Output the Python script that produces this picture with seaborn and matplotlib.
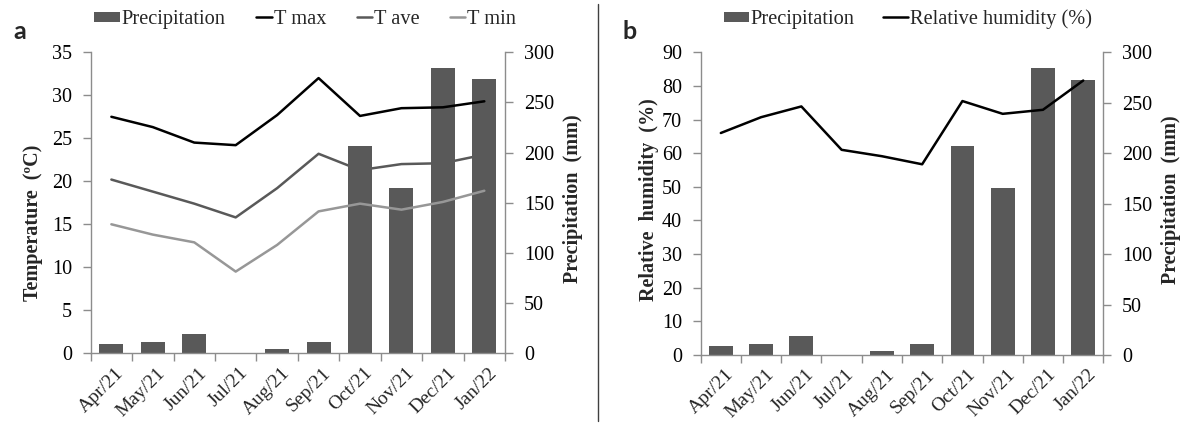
import numpy as np
import pandas as pd
import matplotlib
matplotlib.use("Agg")
import matplotlib.pyplot as plt
import matplotlib.transforms as mtransforms
import seaborn as sns
from matplotlib.lines import Line2D
from matplotlib.patches import Patch, Rectangle
from matplotlib.legend_handler import HandlerPatch

# ---- data ----
months = ["Apr/21", "May/21", "Jun/21", "Jul/21", "Aug/21", "Sep/21",
          "Oct/21", "Nov/21", "Dec/21", "Jan/22"]
precip = [9, 11, 19, 0, 4, 11, 207, 165, 284, 273]
t_max = [27.5, 26.3, 24.5, 24.2, 27.7, 32.0, 27.6, 28.5, 28.6, 29.3]
t_ave = [20.2, 18.8, 17.4, 15.8, 19.2, 23.2, 21.3, 22.0, 22.1, 23.1]
t_min = [15.0, 13.8, 12.9, 9.5, 12.6, 16.5, 17.4, 16.7, 17.6, 18.9]
rel_hum = [66.0, 70.7, 73.9, 61.0, 59.1, 56.7, 75.5, 71.7, 72.9, 81.6]

df = pd.DataFrame({"month": months, "precip": precip, "t_max": t_max,
                   "t_ave": t_ave, "t_min": t_min, "rh": rel_hum})

sns.set_theme(style="white")
plt.rcParams["font.family"] = ["Liberation Serif", "DejaVu Serif"]

BAR = "#595959"
SPINE = "#8c8c8c"
FS = 14.5
XFS = 14
LFS = 14.5
LEGFS = 14.7

fig = plt.figure(figsize=(11.85, 4.23), dpi=100)
axA = fig.add_axes([0.0765, 0.1648, 0.3497, 0.7116])
axB = fig.add_axes([0.5913, 0.1608, 0.3398, 0.7156])


def style_panel(ax, ax2, left_lim, left_step, ylabel, lx, ly, rx, ry, bar_w):
    sns.barplot(data=df, x="month", y="precip", ax=ax2, color=BAR,
                saturation=1, width=bar_w, linewidth=0)
    ax.set_zorder(ax2.get_zorder() + 1)
    ax.patch.set_visible(False)
    ax.set_xlim(-0.5, len(months) - 0.5)
    ax.set_ylim(0, left_lim)
    ax.set_yticks(np.arange(0, left_lim + 0.1, left_step))
    ax2.set_ylim(0, 300)
    ax2.set_yticks(np.arange(0, 301, 50))
    for a in (ax, ax2):
        for s in a.spines.values():
            s.set_color(SPINE)
            s.set_linewidth(1.0)
        a.spines["top"].set_visible(False)
        a.grid(False)
    ax.spines["right"].set_visible(False)
    ax2.spines["left"].set_visible(False)
    ax2.spines["bottom"].set_visible(False)
    ax.tick_params(axis="y", which="major", left=True, length=5.5, width=1,
                   color=SPINE, pad=8, labelsize=FS, labelcolor="black")
    ax2.tick_params(axis="y", which="major", right=True, length=5.5, width=1,
                    color=SPINE, pad=8, labelsize=FS, labelcolor="black")
    ax.set_xticks(range(len(months)))
    ax.set_xticklabels(months, rotation=45, ha="right", va="top",
                       rotation_mode="anchor", fontsize=XFS)
    ax.set_xticks(np.arange(-0.5, len(months), 1), minor=True)
    ax.tick_params(axis="x", which="major", bottom=True, length=0, pad=8)
    ax.tick_params(axis="x", which="minor", bottom=True, length=6, width=1,
                   color=SPINE)
    off = mtransforms.ScaledTranslation(0.04, 0, fig.dpi_scale_trans)
    for lab in ax.get_xticklabels():
        lab.set_transform(lab.get_transform() + off)
    ax.set_xlabel("")
    ax.set_ylabel(ylabel, fontsize=LFS, fontweight="bold")
    ax.yaxis.set_label_coords(lx, ly)
    ax2.set_ylabel("Precipitation  (mm)", fontsize=LFS, fontweight="bold")
    ax2.yaxis.set_label_coords(rx, ry)


# ---- panel a ----
axA2 = axA.twinx()
sns.lineplot(data=df, x="month", y="t_max", ax=axA, color="black",
             linewidth=1.8, sort=False)
sns.lineplot(data=df, x="month", y="t_ave", ax=axA, color="#595959",
             linewidth=1.8, sort=False)
sns.lineplot(data=df, x="month", y="t_min", ax=axA, color="#979797",
             linewidth=1.8, sort=False)
style_panel(axA, axA2, 35, 5, "Temperature  (ºC)", -0.114, 0.433,
            1.140, 0.513, 0.58)

# ---- panel b ----
axB2 = axB.twinx()
sns.lineplot(data=df, x="month", y="rh", ax=axB, color="black",
             linewidth=1.8, sort=False)
style_panel(axB, axB2, 90, 10, "Relative  humidity  (%)", -0.1036, 0.512,
            1.1433, 0.513, 0.59)


# ---- legends ----
def make_patch_handler(total_px):
    def patch_func(legend, orig_handle, xdescent, ydescent, width, height,
                   fontsize):
        w = total_px * 72.0 / fig.dpi
        h = 10 * 72.0 / fig.dpi
        return Rectangle((width - w - xdescent, -ydescent + (height - h) / 2),
                         w, h)
    return HandlerPatch(patch_func=patch_func)


hA = [Patch(facecolor=BAR, edgecolor="none"),
      Line2D([], [], color="black", lw=1.8),
      Line2D([], [], color="#595959", lw=1.8),
      Line2D([], [], color="#979797", lw=1.8)]
fig.legend(hA, ["Precipitation", "T max", "T ave", "T min"],
           loc="center", bbox_to_anchor=(0.262, 0.955), ncol=4,
           frameon=False, fontsize=LEGFS, handlelength=0.74,
           handletextpad=0.1, columnspacing=1.5, borderpad=0,
           handler_map={Patch: make_patch_handler(26)})
hB = [Patch(facecolor=BAR, edgecolor="none"),
      Line2D([], [], color="black", lw=1.8)]
fig.legend(hB, ["Precipitation", "Relative humidity (%)"],
           loc="center", bbox_to_anchor=(0.766, 0.955), ncol=2,
           frameon=False, fontsize=LEGFS, handlelength=1.22,
           handletextpad=0.1, columnspacing=1.37, borderpad=0,
           handler_map={Patch: make_patch_handler(25)})

# ---- panel letters and separator ----
fig.text(0.017, 0.925, "a", fontsize=18, fontweight="bold",
         family=["Lato", "DejaVu Sans"], ha="center", va="center")
fig.text(0.531, 0.925, "b", fontsize=18, fontweight="bold",
         family=["Lato", "DejaVu Sans"], ha="center", va="center")
fig.add_artist(Line2D([0.5044, 0.5044], [0.005, 0.99], color="#404040",
                      lw=1.0, transform=fig.transFigure))

fig.savefig("out.png", dpi=100)
